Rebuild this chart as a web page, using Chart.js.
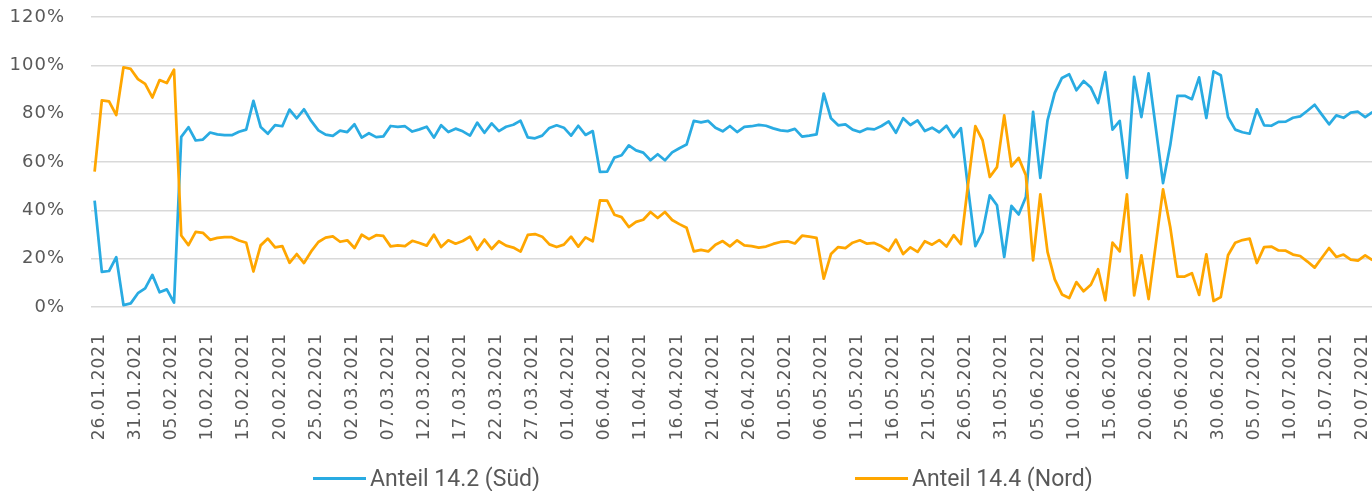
<!DOCTYPE html>
<html>
<head>
<meta charset="utf-8">
<script src="https://cdn.jsdelivr.net/npm/chart.js@4/dist/chart.umd.min.js"></script>
<style>
  html, body { margin: 0; padding: 0; background: #fff; overflow: hidden; }
  #wrap { position: relative; width: 1376px; height: 491px; }
  #legend .item {
    position: absolute; top: 464px; height: 28px;
    display: flex; align-items: center;
    font-family: Roboto, sans-serif; font-size: 23px; color: #595959;
    white-space: nowrap;
  }
  #legend .swatch { width: 53px; height: 3px; margin-right: 4px; }
</style>
</head>
<body>
<div id="wrap">
  <canvas id="chart" width="1376" height="491"></canvas>
  <div id="legend"></div>
</div>

<script>
// categories: one per day
var dates = [
  '26.01.2021','27.01.2021','28.01.2021','29.01.2021','30.01.2021','31.01.2021',
  '01.02.2021','02.02.2021','03.02.2021','04.02.2021','05.02.2021','06.02.2021','07.02.2021','08.02.2021','09.02.2021','10.02.2021',
  '11.02.2021','12.02.2021','13.02.2021','14.02.2021','15.02.2021','16.02.2021','17.02.2021','18.02.2021','19.02.2021','20.02.2021',
  '21.02.2021','22.02.2021','23.02.2021','24.02.2021','25.02.2021','26.02.2021','27.02.2021','28.02.2021',
  '01.03.2021','02.03.2021','03.03.2021','04.03.2021','05.03.2021','06.03.2021','07.03.2021','08.03.2021','09.03.2021','10.03.2021',
  '11.03.2021','12.03.2021','13.03.2021','14.03.2021','15.03.2021','16.03.2021','17.03.2021','18.03.2021','19.03.2021','20.03.2021',
  '21.03.2021','22.03.2021','23.03.2021','24.03.2021','25.03.2021','26.03.2021','27.03.2021','28.03.2021','29.03.2021','30.03.2021','31.03.2021',
  '01.04.2021','02.04.2021','03.04.2021','04.04.2021','05.04.2021','06.04.2021','07.04.2021','08.04.2021','09.04.2021','10.04.2021',
  '11.04.2021','12.04.2021','13.04.2021','14.04.2021','15.04.2021','16.04.2021','17.04.2021','18.04.2021','19.04.2021','20.04.2021',
  '21.04.2021','22.04.2021','23.04.2021','24.04.2021','25.04.2021','26.04.2021','27.04.2021','28.04.2021','29.04.2021','30.04.2021',
  '01.05.2021','02.05.2021','03.05.2021','04.05.2021','05.05.2021','06.05.2021','07.05.2021','08.05.2021','09.05.2021','10.05.2021',
  '11.05.2021','12.05.2021','13.05.2021','14.05.2021','15.05.2021','16.05.2021','17.05.2021','18.05.2021','19.05.2021','20.05.2021',
  '21.05.2021','22.05.2021','23.05.2021','24.05.2021','25.05.2021','26.05.2021','27.05.2021','28.05.2021','29.05.2021','30.05.2021','31.05.2021',
  '01.06.2021','02.06.2021','03.06.2021','04.06.2021','05.06.2021','06.06.2021','07.06.2021','08.06.2021','09.06.2021','10.06.2021',
  '11.06.2021','12.06.2021','13.06.2021','14.06.2021','15.06.2021','16.06.2021','17.06.2021','18.06.2021','19.06.2021','20.06.2021',
  '21.06.2021','22.06.2021','23.06.2021','24.06.2021','25.06.2021','26.06.2021','27.06.2021','28.06.2021','29.06.2021','30.06.2021',
  '01.07.2021','02.07.2021','03.07.2021','04.07.2021','05.07.2021','06.07.2021','07.07.2021','08.07.2021','09.07.2021','10.07.2021',
  '11.07.2021','12.07.2021','13.07.2021','14.07.2021','15.07.2021','16.07.2021','17.07.2021','18.07.2021','19.07.2021','20.07.2021',
  '21.07.2021','22.07.2021'
];

// series values in percent
var sued = [
  44, 14.5, 14.9, 20.6, 0.8, 1.5, 5.7, 7.7, 13.3, 6.1,
  7.3, 1.8, 70.4, 74.4, 68.9, 69.3, 72.2, 71.4, 71.1, 71.1,
  72.5, 73.4, 85.3, 74.5, 71.7, 75.3, 74.8, 81.7, 78.1, 81.8,
  77, 73.1, 71.3, 70.8, 73, 72.4, 75.6, 70.1, 71.9, 70.3,
  70.6, 74.9, 74.5, 74.8, 72.6, 73.5, 74.6, 70.1, 75.2, 72.4,
  73.8, 72.7, 70.9, 76.3, 72.1, 76, 72.8, 74.6, 75.4, 77.1,
  70.2, 69.8, 70.9, 74.1, 75.2, 74.2, 70.9, 75, 71.2, 72.8,
  55.9, 56, 61.8, 62.8, 66.9, 64.8, 63.9, 60.7, 63.2, 60.7,
  64, 65.7, 67.2, 77, 76.4, 77, 74.2, 72.7, 74.9, 72.4,
  74.5, 74.8, 75.4, 75, 73.9, 73.1, 72.8, 73.7, 70.5, 70.9,
  71.4, 88.3, 78.1, 75.2, 75.6, 73.4, 72.4, 73.8, 73.5, 74.9,
  76.8, 72.1, 78.1, 75.3, 77.2, 72.8, 74.2, 72.3, 75, 70.3,
  74, 49, 25.2, 31, 46.2, 42.1, 20.7, 41.8, 38.3, 45.5,
  80.7, 53.4, 77.2, 88.6, 94.8, 96.3, 89.7, 93.5, 90.8, 84.4,
  97.2, 73.4, 77, 53.4, 95.2, 78.6, 96.7, 74, 51.3, 67,
  87.4, 87.4, 86, 95, 78.2, 97.5, 95.9, 78.6, 73.4, 72.3,
  71.7, 81.8, 75.2, 75, 76.6, 76.7, 78.3, 78.9, 81.2, 83.7,
  79.6, 75.6, 79.3, 78.3, 80.4, 80.8, 78.6, 80.6
];

var nord = [
  56, 85.5, 85.1, 79.4, 99.2, 98.5, 94.3, 92.3, 86.7, 93.9,
  92.7, 98.2, 29.6, 25.6, 31.1, 30.7, 27.8, 28.6, 28.9, 28.9,
  27.5, 26.6, 14.7, 25.5, 28.3, 24.7, 25.2, 18.3, 21.9, 18.2,
  23, 26.9, 28.7, 29.2, 27, 27.6, 24.4, 29.9, 28.1, 29.7,
  29.4, 25.1, 25.5, 25.2, 27.4, 26.5, 25.4, 29.9, 24.8, 27.6,
  26.2, 27.3, 29.1, 23.7, 27.9, 24, 27.2, 25.4, 24.6, 22.9,
  29.8, 30.2, 29.1, 25.9, 24.8, 25.8, 29.1, 25, 28.8, 27.2,
  44.1, 44, 38.2, 37.2, 33.1, 35.2, 36.1, 39.3, 36.8, 39.3,
  36, 34.3, 32.8, 23, 23.6, 23, 25.8, 27.3, 25.1, 27.6,
  25.5, 25.2, 24.6, 25, 26.1, 26.9, 27.2, 26.3, 29.5, 29.1,
  28.6, 11.7, 21.9, 24.8, 24.4, 26.6, 27.6, 26.2, 26.5, 25.1,
  23.2, 27.9, 21.9, 24.7, 22.8, 27.2, 25.8, 27.7, 25, 29.7,
  26, 51, 74.8, 69, 53.8, 57.9, 79.3, 58.2, 61.7, 54.5,
  19.3, 46.6, 22.8, 11.4, 5.2, 3.7, 10.3, 6.5, 9.2, 15.6,
  2.8, 26.6, 23, 46.6, 4.8, 21.4, 3.3, 26, 48.7, 33,
  12.6, 12.6, 14, 5, 21.8, 2.5, 4.1, 21.4, 26.6, 27.7,
  28.3, 18.2, 24.8, 25, 23.4, 23.3, 21.7, 21.1, 18.8, 16.3,
  20.4, 24.4, 20.7, 21.7, 19.6, 19.2, 21.4, 19.4
];

var seriesNames = ['Anteil 14.2 (Süd)', 'Anteil 14.4 (Nord)'];
var seriesColors = ['#29abe2', '#ffa600'];
var yTicks = [0, 20, 40, 60, 80, 100, 120];

var textColor = '#595959';

// wider tracking for the axis labels
var spacing = {
  id: 'spacing',
  beforeUpdate: function (c) { c.ctx.letterSpacing = '1px'; },
  beforeDraw: function (c) { c.ctx.letterSpacing = '1px'; }
};

var ctx = document.getElementById('chart').getContext('2d');
var chart = new Chart(ctx, {
  type: 'line',
  data: {
    labels: dates,
    datasets: [
      { label: seriesNames[0], data: sued, borderColor: seriesColors[0], backgroundColor: seriesColors[0],
        borderWidth: 2.75, pointRadius: 0, tension: 0, fill: false, order: 1, borderJoinStyle: 'round' },
      { label: seriesNames[1], data: nord, borderColor: seriesColors[1], backgroundColor: seriesColors[1],
        borderWidth: 2.75, pointRadius: 0, tension: 0, fill: false, order: 0, borderJoinStyle: 'round' }
    ]
  },
  options: {
    responsive: false,
    animation: false,
    devicePixelRatio: 1,
    layout: { padding: { top: 17, left: 0, right: 0, bottom: 0 } },
    plugins: { legend: { display: false }, tooltip: { enabled: false } },
    scales: {
      x: {
        offset: true,
        grid: { display: false },
        border: { display: false },
        ticks: {
          autoSkip: false, minRotation: 90, maxRotation: 90,
          padding: 18, labelOffset: 5,
          color: textColor,
          font: { family: 'DejaVu Sans', size: 17 },
          callback: function (v, i) { return i % 5 === 0 ? dates[i] : ''; }
        },
        afterFit: function (s) { s.paddingLeft = 0; s.paddingRight = 0; s.paddingTop = 0; s.paddingBottom = 0; s.height = 184; }
      },
      y: {
        min: yTicks[0],
        max: yTicks[yTicks.length - 1],
        grid: { color: '#d9d9d9', lineWidth: 1.5, drawTicks: false },
        border: { display: false },
        ticks: {
          stepSize: 20, padding: 26,
          color: textColor,
          font: { family: 'DejaVu Sans', size: 18 },
          callback: function (v) { return v + '%'; }
        },
        afterFit: function (s) { s.width = 91; s.paddingTop = 0; s.paddingBottom = 0; s.paddingLeft = 0; s.paddingRight = 0; }
      }
    }
  },
  plugins: [spacing]
});

// legend below the chart
var legendLeft = [313, 855];
var legend = document.getElementById('legend');
chart.data.datasets.forEach(function (ds, i) {
  var item = document.createElement('div');
  item.className = 'item';
  item.style.left = legendLeft[i] + 'px';
  var sw = document.createElement('span');
  sw.className = 'swatch';
  sw.style.background = ds.borderColor;
  var txt = document.createElement('span');
  txt.textContent = ds.label;
  item.appendChild(sw);
  item.appendChild(txt);
  legend.appendChild(item);
});
</script>
</body>
</html>
